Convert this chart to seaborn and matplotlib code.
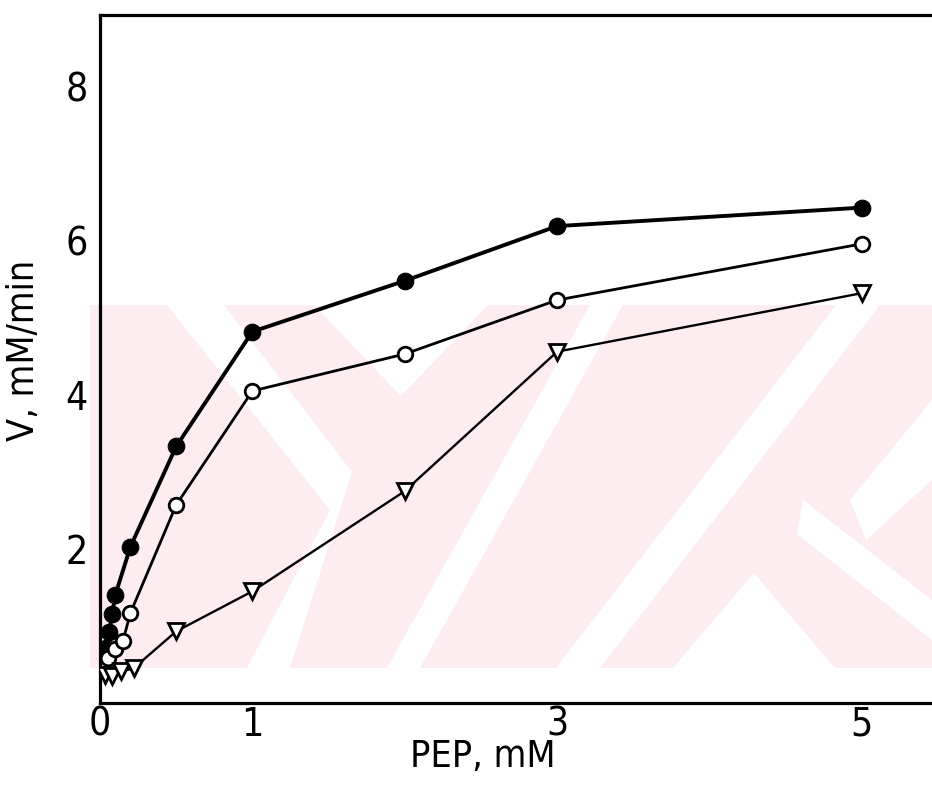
import matplotlib
matplotlib.use("Agg")
import matplotlib.pyplot as plt
import seaborn as sns
import pandas as pd
from matplotlib.patches import Polygon

# ---- data ----
pep_filled = [0.04, 0.06, 0.08, 0.10, 0.20, 0.50, 1.0, 2.0, 3.0, 5.0]
v_filled = [0.72, 0.92, 1.15, 1.40, 2.03, 3.33, 4.82, 5.48, 6.19, 6.43]

pep_open = [0.05, 0.10, 0.15, 0.20, 0.50, 1.0, 2.0, 3.0, 5.0]
v_open = [0.58, 0.70, 0.80, 1.17, 2.57, 4.05, 4.53, 5.23, 5.96]

pep_tri = [0.03, 0.08, 0.14, 0.22, 0.50, 1.0, 2.0, 3.0, 5.0]
v_tri = [0.36, 0.35, 0.41, 0.45, 0.93, 1.45, 2.75, 4.56, 5.32]

x_ticks = [0, 1, 3, 5]
y_ticks = [2, 4, 6, 8]
x_label = "PEP, mM"
y_label = "V, mM/min"

df = pd.concat([
    pd.DataFrame({"PEP": pep_filled, "V": v_filled, "series": "filled"}),
    pd.DataFrame({"PEP": pep_open, "V": v_open, "series": "open"}),
    pd.DataFrame({"PEP": pep_tri, "V": v_tri, "series": "tri"}),
], ignore_index=True)

sns.set_style("white")
plt.rcParams["font.family"] = ["DejaVu Sans"]

fig = plt.figure(figsize=(9.32, 7.93), dpi=100)
ax = fig.add_axes([100 / 932, 90 / 793, 832 / 932, 688 / 793])
ax.set_xlim(0, 5.46)
ax.set_ylim(0, 8.93)

# faint pink watermark (background decoration), pixel -> axes coords
def px(xp, yp):
    return ((xp - 100) / 832, (703 - yp) / 688)

wm_color = "#fdedf0"
ax.add_patch(Polygon([px(90, 305), px(932, 305), px(932, 668), px(90, 668)],
                     closed=True, transform=ax.transAxes, facecolor=wm_color,
                     edgecolor="none", zorder=0, clip_on=False))
white_shapes = [
    [(167, 305), (224, 305), (352, 472), (330, 510)],
    [(330, 510), (352, 472), (290, 668), (247, 668)],
    [(314, 305), (488, 305), (401, 396)],
    [(590, 305), (623, 305), (420, 668), (387, 668)],
    [(836, 305), (880, 305), (600, 668), (556, 668)],
    [(754, 573), (673, 668), (835, 668)],
    [(803, 500), (932, 600), (932, 640), (797, 534)],
    [(932, 400), (932, 480), (866, 540), (850, 500)],
]
for shp in white_shapes:
    ax.add_patch(Polygon([px(a, b) for a, b in shp], closed=True,
                         transform=ax.transAxes, facecolor="white",
                         edgecolor="none", zorder=0.5, clip_on=False))

d = df[df.series == "filled"]
sns.lineplot(data=d, x="PEP", y="V", ax=ax, color="black", lw=2.8,
             marker="o", markersize=12, markerfacecolor="black",
             markeredgecolor="black", estimator=None, sort=False, zorder=3)
d = df[df.series == "open"]
sns.lineplot(data=d, x="PEP", y="V", ax=ax, color="black", lw=2.0,
             marker="o", markersize=10.5, markerfacecolor="white",
             markeredgecolor="black", markeredgewidth=2.0,
             estimator=None, sort=False, zorder=3)
d = df[df.series == "tri"]
sns.lineplot(data=d, x="PEP", y="V", ax=ax, color="black", lw=1.7,
             marker="v", markersize=11.5, markerfacecolor="white",
             markeredgecolor="black", markeredgewidth=2.0,
             estimator=None, sort=False, zorder=3)

for side in ["left", "bottom", "top"]:
    ax.spines[side].set_visible(True)
    ax.spines[side].set_linewidth(2.3)
    ax.spines[side].set_color("black")
ax.spines["right"].set_visible(False)

ax.set_xticks(x_ticks)
ax.set_yticks(y_ticks)
ax.set_xticklabels([str(t) for t in x_ticks])
ax.set_yticklabels([str(t) for t in y_ticks])
ax.tick_params(axis="both", direction="in", length=7, width=2, colors="black",
               labelsize=28)
ax.tick_params(axis="y", pad=9)
ax.tick_params(axis="x", pad=2)
ax.tick_params(top=False, right=False)
for lab in ax.get_xticklabels() + ax.get_yticklabels():
    lab.set_fontstretch("condensed")

ax.set_xlabel(x_label, fontsize=27, fontstretch="condensed", color="black")
ax.set_ylabel(y_label, fontsize=27, fontstretch="condensed", color="black")
ax.xaxis.set_label_coords(0.46, -0.052)
ax.yaxis.set_label_coords(-0.07, 0.513)
ax.grid(False)

fig.savefig("out.png", dpi=100, facecolor="white")
